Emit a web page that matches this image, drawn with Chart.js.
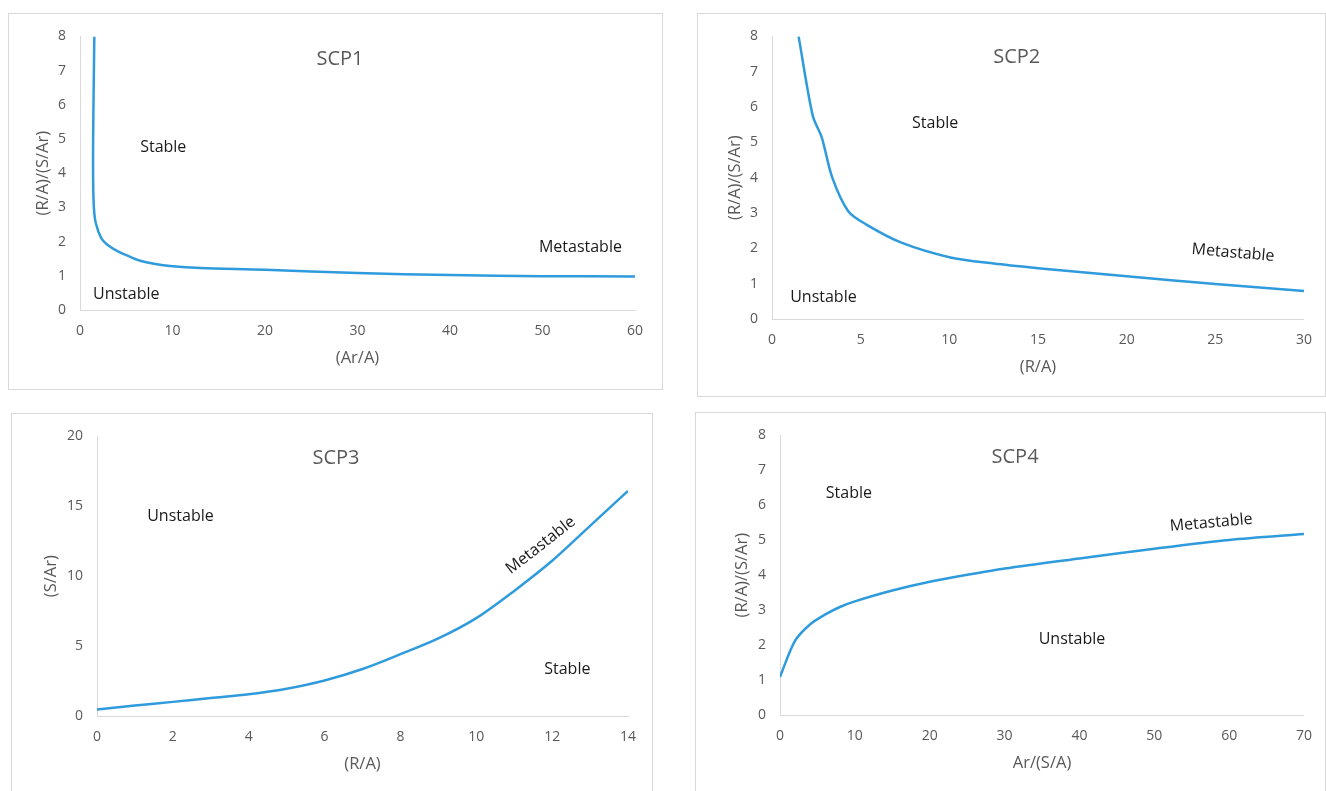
<!DOCTYPE html>
<html>
<head>
<meta charset="utf-8">
<script src="https://cdn.jsdelivr.net/npm/chart.js@4.4.1/dist/chart.umd.min.js"></script>
<style>
    body { margin: 0; background: #fff; width: 1326px; height: 791px; overflow: hidden; position: relative; }
    .panel { position: absolute; box-sizing: border-box; border: 1px solid #d9d9d9; background: #fff; }
    .panel canvas { position: absolute; left: 0; top: 0; }
</style>
</head>
<body>
<div class="panel" style="left:8px;top:13px;width:655px;height:377px"><canvas id="c1" width="653" height="375"></canvas></div>
<div class="panel" style="left:697px;top:13px;width:629px;height:384px"><canvas id="c2" width="627" height="382"></canvas></div>
<div class="panel" style="left:11px;top:413px;width:642px;height:400px"><canvas id="c3" width="640" height="398"></canvas></div>
<div class="panel" style="left:695px;top:412px;width:631px;height:400px"><canvas id="c4" width="629" height="398"></canvas></div>

<script>
// SCP1: (R/A)/(S/Ar) vs (Ar/A)
const scp1X = [1.55, 1.48, 1.42, 1.42, 1.5, 1.7, 2.3, 3.0, 4.0, 5.2, 6.5, 8, 10, 13, 20, 30, 40, 50, 60];
const scp1Y = [8.0, 6.5, 5.0, 3.8, 3.0, 2.55, 2.1, 1.9, 1.73, 1.58, 1.44, 1.35, 1.28, 1.23, 1.18, 1.08, 1.02, 0.99, 0.98];

// SCP2: (R/A)/(S/Ar) vs (R/A)
const scp2X = [1.5, 2.3, 2.8, 3.4, 4.3, 5.3, 7.3, 10, 12.5, 15, 20, 25, 30];
const scp2Y = [8.0, 5.75, 5.15, 4.0, 3.05, 2.68, 2.16, 1.75, 1.57, 1.44, 1.21, 0.99, 0.79];

// SCP3: (S/Ar) vs (R/A)
const scp3X = [0, 1, 2, 3, 4, 5, 6, 7, 8, 9, 10, 11, 12, 13, 14];
const scp3Y = [0.47, 0.75, 1.01, 1.29, 1.55, 1.95, 2.54, 3.36, 4.42, 5.55, 7.0, 8.95, 11.1, 13.6, 16.1];

// SCP4: (R/A)/(S/Ar) vs Ar/(S/A)
const scp4X = [0, 2, 4, 6, 8, 10, 15, 20, 25, 30, 40, 50, 60, 70];
const scp4Y = [1.09, 2.12, 2.59, 2.87, 3.09, 3.25, 3.56, 3.81, 4.01, 4.19, 4.48, 4.76, 5.01, 5.18];

const FONT = '"Open Sans", sans-serif';
const GREY = '#595959';
const LINE = '#2f9bdc';

// draws the region words and the panel title in data coordinates
const regionLabels = {
    id: 'regionLabels',
    afterDatasetsDraw(chart, args, opts) {
        const { ctx, scales: { x, y } } = chart;
        (opts.items || []).forEach(it => {
            ctx.save();
            ctx.font = (it.size || 16) + 'px ' + FONT;
            ctx.fillStyle = it.color || '#1a1a1a';
            ctx.textAlign = 'center';
            ctx.textBaseline = 'middle';
            ctx.translate(x.getPixelForValue(it.x), y.getPixelForValue(it.y));
            ctx.rotate((it.angle || 0) * Math.PI / 180);
            ctx.fillText(it.text, 0, 0);
            ctx.restore();
        });
    }
};

const makeChart = (id, xs, ys, c) => {
    const axis = (min, max, step, title, size, pad, tickPad) => ({
        type: 'linear',
        min: min,
        max: max,
        ticks: { stepSize: step, color: GREY, padding: tickPad, font: { family: FONT, size: 14 } },
        grid: { display: false, drawTicks: false },
        border: { display: true, color: '#d9d9d9', width: 1 },
        title: { display: true, text: title, color: GREY, font: { family: FONT, size: 16.5 }, padding: pad },
        afterFit: (s) => { if (s.isHorizontal()) s.height = size; else s.width = size; }
    });

    return new Chart(document.getElementById(id), {
        type: 'scatter',
        data: {
            datasets: [{
                data: xs.map((v, i) => ({ x: v, y: ys[i] })),
                showLine: true,
                borderColor: LINE,
                borderWidth: 2.5,
                pointRadius: 0,
                tension: 0.3,
                fill: false
            }]
        },
        options: {
            responsive: false,
            animation: false,
            layout: { padding: c.padding },
            scales: {
                x: axis(0, c.xMax, c.xStep, c.xTitle, 62, { top: 0, bottom: 4 }, 13),
                y: axis(0, c.yMax, c.yStep, c.yTitle, c.yWidth, { top: c.yTitlePad, bottom: 0 }, 14)
            },
            plugins: {
                legend: { display: false },
                tooltip: { enabled: false },
                regionLabels: { items: c.labels }
            }
        },
        plugins: [regionLabels]
    });
};

makeChart('c1', scp1X, scp1Y, {
    xMax: 60, xStep: 10, yMax: 8, yStep: 1,
    xTitle: '(Ar/A)', yTitle: '(R/A)/(S/Ar)', yWidth: 50, yTitlePad: 3,
    padding: { left: 21, top: 18, right: 27, bottom: 17 },
    labels: [
        { text: 'SCP1', x: 28.1, y: 7.34, size: 20, color: GREY },
        { text: 'Stable', x: 9.0, y: 4.75 },
        { text: 'Metastable', x: 54.1, y: 1.84 },
        { text: 'Unstable', x: 5.0, y: 0.46 }
    ]
});

makeChart('c2', scp2X, scp2Y, {
    xMax: 30, xStep: 5, yMax: 8, yStep: 1,
    xTitle: '(R/A)', yTitle: '(R/A)/(S/Ar)', yWidth: 50, yTitlePad: 3,
    padding: { left: 24, top: 19, right: 13, bottom: 15 },
    labels: [
        { text: 'SCP2', x: 13.8, y: 7.41, size: 20, color: GREY },
        { text: 'Stable', x: 9.2, y: 5.54 },
        { text: 'Metastable', x: 26.0, y: 1.87, angle: 5 },
        { text: 'Unstable', x: 2.9, y: 0.62 }
    ]
});

makeChart('c3', scp3X, scp3Y, {
    xMax: 14, xStep: 2, yMax: 20, yStep: 5,
    xTitle: '(R/A)', yTitle: '(S/Ar)', yWidth: 58, yTitlePad: 2,
    padding: { left: 27, top: 18, right: 24, bottom: 34 },
    labels: [
        { text: 'SCP3', x: 6.3, y: 18.4, size: 20, color: GREY },
        { text: 'Unstable', x: 2.2, y: 14.3 },
        { text: 'Metastable', x: 11.7, y: 12.2, angle: -38 },
        { text: 'Stable', x: 12.4, y: 3.3 }
    ]
});

makeChart('c4', scp4X, scp4Y, {
    xMax: 70, xStep: 10, yMax: 8, yStep: 1,
    xTitle: 'Ar/(S/A)', yTitle: '(R/A)/(S/Ar)', yWidth: 50, yTitlePad: 2,
    padding: { left: 34, top: 18, right: 14, bottom: 34 },
    labels: [
        { text: 'SCP4', x: 31.4, y: 7.38, size: 20, color: GREY },
        { text: 'Stable', x: 9.2, y: 6.34 },
        { text: 'Metastable', x: 57.6, y: 5.5, angle: -5 },
        { text: 'Unstable', x: 39.0, y: 2.17 }
    ]
});
</script>
</body>
</html>
